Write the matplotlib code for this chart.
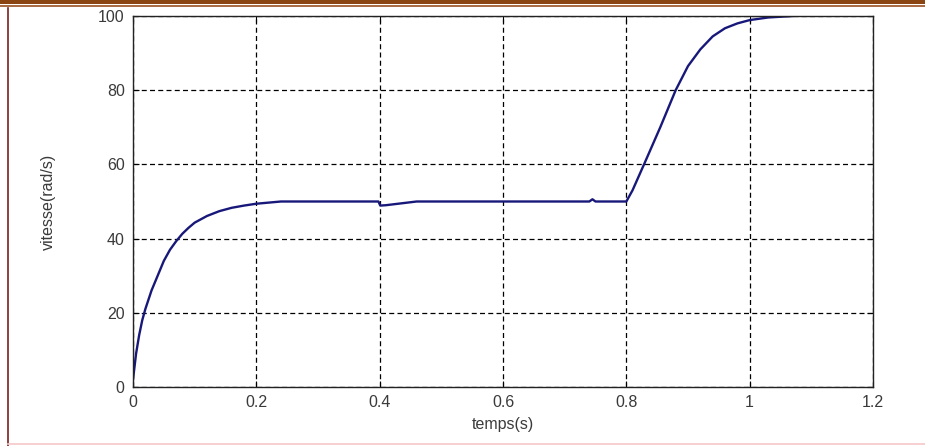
import matplotlib
matplotlib.use("Agg")
import matplotlib.pyplot as plt
from matplotlib.lines import Line2D
from matplotlib.patches import Rectangle

# Data
t = [0, 0.005, 0.01, 0.015, 0.02, 0.025, 0.03, 0.04, 0.05, 0.06, 0.07,
     0.08, 0.09, 0.1, 0.12, 0.14, 0.16, 0.18, 0.2, 0.22, 0.24,
     0.3, 0.398, 0.401, 0.41, 0.43, 0.46, 0.6, 0.74, 0.745, 0.75,
     0.8, 0.81, 0.83, 0.855, 0.88, 0.9, 0.92, 0.94, 0.96, 0.98, 1.0,
     1.03, 1.07]
v = [2, 9, 14, 18, 21, 23.5, 26, 30, 34, 37, 39.3,
     41.3, 42.9, 44.3, 46.1, 47.4, 48.3, 48.9, 49.4, 49.7, 50,
     50, 50, 48.9, 49.0, 49.4, 50, 50, 50, 50.6, 50,
     50, 53, 60.5, 70, 80, 86.5, 91, 94.5, 96.7, 98, 98.9,
     99.6, 100]
xticks = [0, 0.2, 0.4, 0.6, 0.8, 1, 1.2]
xticklabels = ["0", "0.2", "0.4", "0.6", "0.8", "1", "1.2"]
yticks = [0, 20, 40, 60, 80, 100]
xlabel = "temps(s)"
ylabel = "vitesse(rad/s)"

plt.rcParams['font.family'] = ['Liberation Sans', 'DejaVu Sans']

W, H = 925, 446
fig = plt.figure(figsize=(W / 100, H / 100), dpi=100)
fig.patch.set_facecolor("white")

# decorative frame
fig.add_artist(Rectangle((0, 1 - 4 / H), 1, 4 / H, transform=fig.transFigure,
                         color="#8a4513", lw=0))
fig.add_artist(Line2D([0, 1], [1 - 6 / H, 1 - 6 / H], transform=fig.transFigure,
                      color="#9a5020", lw=1.2))
fig.add_artist(Line2D([8 / W, 8 / W], [0, 1 - 8 / H], transform=fig.transFigure,
                      color="#7a2020", lw=1.2))
fig.add_artist(Line2D([8 / W, 1], [2.5 / H, 2.5 / H], transform=fig.transFigure,
                      color="#f6c8c8", lw=1.2))

ax = fig.add_axes([133 / W, 1 - 387 / H, 740 / W, 371 / H])
ax.plot(t, v, color="#18187a", lw=1.7)

ax.set_xlim(0, 1.2)
ax.set_ylim(0, 100)
ax.set_xticks(xticks)
ax.set_xticklabels(xticklabels)
ax.set_yticks(yticks)
ax.grid(True, color="black", linestyle=(0, (4, 2.6)), lw=0.9)
ax.tick_params(direction="in", top=True, right=True, length=4, width=0.8,
               labelsize=11.5, labelcolor="#3a3a3a", pad=6)
for s in ax.spines.values():
    s.set_linewidth(1.0)
    s.set_color("#222222")

ax.set_xlabel(xlabel, fontsize=11.5, color="#3a3a3a", labelpad=5)
ax.set_ylabel(ylabel, fontsize=11.5, color="#3a3a3a", labelpad=30)

fig.savefig("out.png", dpi=100)
